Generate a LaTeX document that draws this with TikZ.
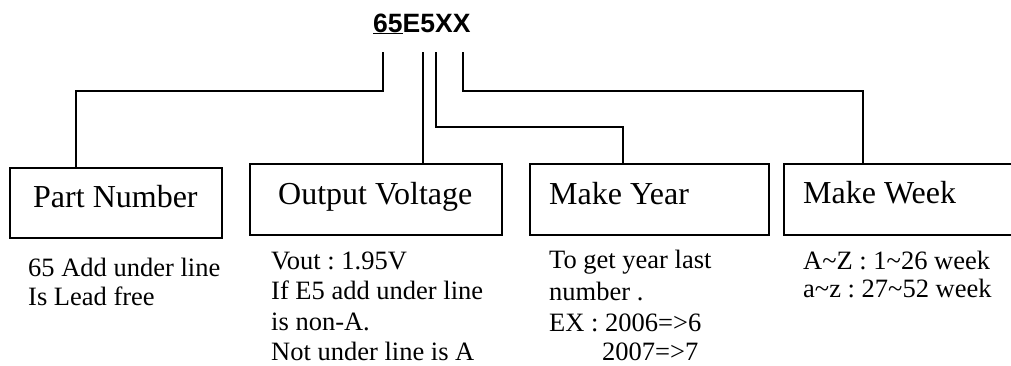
\documentclass[tikz,border=0pt]{standalone}
\usepackage{fontspec}
\setmainfont{Liberation Serif}
\newfontfamily\titlefont{Liberation Sans}
\frenchspacing
\tikzset{
  px/.style={x=1pt,y=-1pt},
  box/.style={draw,line width=1.8pt,anchor=north west,inner sep=0pt,outer sep=0pt},
  conn/.style={line width=1.8pt,line cap=rect},
  head/.style={anchor=base west,inner sep=0pt,font=\frenchspacing\fontsize{32}{38}\selectfont},
  desc/.style={anchor=base west,inner sep=0pt,font=\frenchspacing\fontsize{26.5}{30}\selectfont},
  ttl/.style={anchor=base west,inner sep=0pt,font=\titlefont\bfseries\fontsize{26.5}{30}\selectfont},
}
\begin{document}
\begin{tikzpicture}[px]
\useasboundingbox (0,0) rectangle (1011,365);
% title
\node[ttl] (title) at (373,32) {\underline{65}E5XX};
% boxes
\node[box,minimum width=212pt,minimum height=70pt] (pn) at (10,168) {};
\node[box,minimum width=252pt,minimum height=71pt] (ov) at (250,164) {};
\node[box,minimum width=239pt,minimum height=71pt] (my) at (530,164) {};
\node[box,minimum width=240pt,minimum height=71pt] (mw) at (784,164) {};
% box titles
\node[head] (pnt) at (33,207) {Part Number};
\node[head] (ovt) at (278,204) {Output Voltage};
\node[head] (myt) at (549,204) {Make Year};
\node[head] (mwt) at (803,203) {Make Week};
% connectors
\coordinate (s1) at (383,53);
\coordinate (s2) at (423,53);
\coordinate (s3) at (436,53);
\coordinate (s4) at (463,53);
\coordinate (j1) at (76,91);
\coordinate (j3) at (623,127);
\coordinate (j4) at (863,91);
\draw[conn] (s1) |- (j1) -- (j1 |- pn.north);
\draw[conn] (s2) -- (s2 |- ov.north);
\draw[conn] (s3) |- (j3) -- (j3 |- my.north);
\draw[conn] (s4) |- (j4) -- (j4 |- mw.north);
% descriptions
\node[desc] (pd1) at (28,276) {65 Add under line};
\node[desc] (pd2) at (28,305) {Is Lead free};
\node[desc] (od1) at (271,269) {Vout : 1.95V};
\node[desc] (od2) at (271,299) {If E5 add under line};
\node[desc] (od3) at (271,330) {is non-A.};
\node[desc] (od4) at (271,360) {Not under line is A};
\node[desc] (yd1) at (549,268) {To get year last};
\node[desc] (yd2) at (549,300) {number .};
\node[desc] (yd3) at (549,331) {EX : 2006=>6};
\node[desc] (yd4) at (602,360) {2007=>7};
\node[desc] (wd1) at (803,269) {A\textasciitilde Z : 1\textasciitilde 26 week};
\node[desc] (wd2) at (803,297) {a\textasciitilde z : 27\textasciitilde 52 week};
\end{tikzpicture}
\end{document}
